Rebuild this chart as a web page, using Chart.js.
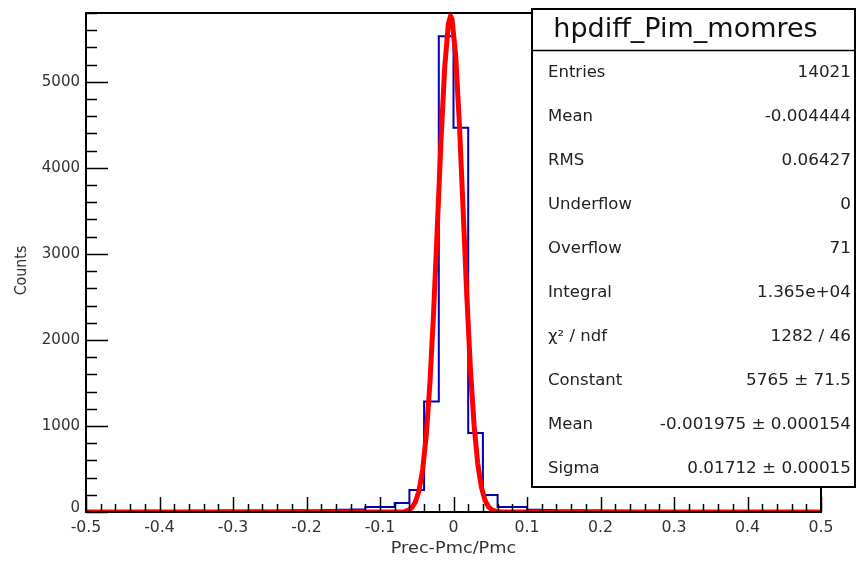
<!DOCTYPE html>
<html>
<head>
<meta charset="utf-8">
<script src="https://cdn.jsdelivr.net/npm/chart.js@4"></script>
<style>
html,body{margin:0;padding:0;background:#fff;}
#wrap{width:857px;height:562px;position:relative;}
</style>
</head>
<body>
<div id="wrap"><canvas id="c" width="857" height="562"></canvas></div>
<script>
// ---------- DATA ----------
const histTitle = "hpdiff_Pim_momres";
const xAxisTitle = "Prec-Pmc/Pmc";
const yAxisTitle = "Counts";
const xMin = -0.5, xMax = 0.5, binWidth = 0.02;
const yMin = 0, yMax = 5800;
// blue histogram: 50 bins of width 0.02 from -0.5 to 0.5
const binCounts = [
  8, 10, 12, 9, 14, 11, 13, 15, 12, 16,
  14, 18, 15, 17, 20, 18, 22, 25, 28, 58,
  58, 105, 256, 1283, 5530, 4465, 919, 198, 58, 58,
  25, 22, 18, 20, 16, 15, 14, 13, 15, 12,
  12, 11, 13, 10, 12, 9, 11, 10, 8, 9
];
// red fitted curve
const fitX = [-0.5, -0.072, -0.067, -0.062, -0.057, -0.052, -0.047, -0.042, -0.037, -0.032, -0.027, -0.022, -0.017, -0.012, -0.007, -0.004, -0.002, 0.003, 0.008, 0.013, 0.018, 0.023, 0.028, 0.033, 0.038, 0.043, 0.048, 0.053, 0.058, 0.063, 0.068, 0.5];
const fitY = [0, 1, 4, 18, 47, 113, 245, 490, 897, 1510, 2333, 3311, 4316, 5165, 5676, 5765, 5727, 5306, 4514, 3526, 2530, 1666, 1008, 560, 286, 134, 57, 22, 8, 2, 1, 0];
// tick labels
const xTickValues = [-0.5, -0.4, -0.3, -0.2, -0.1, 0, 0.1, 0.2, 0.3, 0.4, 0.5];
const xTickLabels = ["-0.5", "-0.4", "-0.3", "-0.2", "-0.1", "0", "0.1", "0.2", "0.3", "0.4", "0.5"];
const yTickValues = [0, 1000, 2000, 3000, 4000, 5000];
const yTickLabels = ["0", "1000", "2000", "3000", "4000", "5000"];
const xMinorStep = 0.02, yMinorStep = 200;
// stats box
const statLabels = ["Entries", "Mean", "RMS", "Underflow", "Overflow", "Integral", "χ² / ndf", "Constant", "Mean", "Sigma"];
const statValues = ["14021", "-0.004444", "0.06427", "0", "71", "1.365e+04", "1282 / 46", "5765 ± 71.5", "-0.001975 ± 0.000154", "0.01712 ± 0.00015"];

// ---------- BUILD ----------
const histPoints = binCounts.map((c, i) => ({x: xMin + i * binWidth, y: c}));
histPoints.push({x: xMax, y: binCounts[binCounts.length - 1]});
const fitPoints = fitX.map((x, i) => ({x: x, y: fitY[i]}));

const FONT = "'DejaVu Sans', 'Liberation Sans', sans-serif";
function txt(ctx, s, x, y, size, align, sx, color) {
  ctx.save();
  ctx.font = size + "px " + FONT;
  ctx.textBaseline = "middle";
  ctx.fillStyle = color || "#222";
  const w = ctx.measureText(s).width * sx;
  const x0 = align === "right" ? x - w : (align === "center" ? x - w / 2 : x);
  ctx.translate(x0, y);
  ctx.scale(sx, 1);
  ctx.textAlign = "left";
  ctx.fillText(s, 0, 0);
  ctx.restore();
}

const rootPlugin = {
  id: "rootStyle",
  afterDatasetsDraw(chart) {
    const ctx = chart.ctx;
    const xs = chart.scales.x, ys = chart.scales.y;
    const a = chart.chartArea;
    ctx.save();
    // ticks
    ctx.strokeStyle = "#000";
    ctx.lineWidth = 1.5;
    const xMajLen = 15, xMinLen = 8, yMajLen = 22, yMinLen = 11;
    for (let v = xMin; v <= xMax + 1e-9; v += xMinorStep) {
      const p = Math.round(xs.getPixelForValue(v)) + 0.5;
      const isMaj = Math.abs(Math.round(v * 10) - v * 10) < 1e-6;
      ctx.beginPath();
      ctx.moveTo(p, a.bottom);
      ctx.lineTo(p, a.bottom - (isMaj ? xMajLen : xMinLen));
      ctx.stroke();
    }
    for (let v = yMin; v <= yMax + 1e-9; v += yMinorStep) {
      const p = Math.round(ys.getPixelForValue(v)) + 0.5;
      const isMaj = (Math.round(v) % 1000) === 0;
      ctx.beginPath();
      ctx.moveTo(a.left, p);
      ctx.lineTo(a.left + (isMaj ? yMajLen : yMinLen), p);
      ctx.stroke();
    }
    // frame
    ctx.lineWidth = 2;
    ctx.strokeRect(a.left, a.top, a.right - a.left, a.bottom - a.top);
    // tick labels
    xTickValues.forEach((v, i) => {
      txt(ctx, xTickLabels[i], xs.getPixelForValue(v), a.bottom + 16, 15, "center", 1.05, "#333");
    });
    yTickValues.forEach((v, i) => {
      txt(ctx, yTickLabels[i], a.left - 6, ys.getPixelForValue(v) - (v === 0 ? 4 : 0), 15, "right", 1.0, "#333");
    });
    // axis titles
    txt(ctx, xAxisTitle, (a.left + a.right) / 2, a.bottom + 37, 15, "center", 1.18, "#333");
    ctx.save();
    ctx.translate(22, (a.top + a.bottom) / 2 + 8);
    ctx.rotate(-Math.PI / 2);
    txt(ctx, yAxisTitle, 0, 0, 15, "center", 0.95, "#333");
    ctx.restore();

    // stats box
    const bx = 532, by = 9, bw = 323, bh = 478;
    ctx.fillStyle = "#fff";
    ctx.fillRect(bx, by, bw, bh);
    ctx.lineWidth = 2;
    ctx.strokeStyle = "#000";
    ctx.strokeRect(bx, by, bw, bh);
    ctx.lineWidth = 1.5;
    ctx.beginPath();
    ctx.moveTo(bx, 50.5);
    ctx.lineTo(bx + bw, 50.5);
    ctx.stroke();
    txt(ctx, histTitle, bx + bw / 2 - 8, 30, 27, "center", 1.0, "#111");
    const rowTop = 73, rowH = 44;
    statLabels.forEach((lab, i) => {
      const y = rowTop + i * rowH;
      txt(ctx, lab, 548, y, 15, "left", 1.1, "#222");
      txt(ctx, statValues[i], 851, y, 15, "right", 1.12, "#222");
    });
    ctx.restore();
  }
};

new Chart(document.getElementById("c"), {
  type: "line",
  data: {
    datasets: [
      {
        label: "hist",
        data: histPoints,
        stepped: "before",
        borderColor: "#0000b4",
        borderWidth: 2,
        pointRadius: 0,
        fill: false,
        order: 2
      },
      {
        label: "fit",
        data: fitPoints,
        borderColor: "#ff0000",
        borderWidth: 5,
        pointRadius: 0,
        tension: 0,
        fill: false,
        order: 1
      }
    ]
  },
  options: {
    responsive: false,
    animation: false,
    devicePixelRatio: 1,
    layout: {padding: {left: 86, right: 36, top: 13, bottom: 50}},
    plugins: {legend: {display: false}, tooltip: {enabled: false}},
    scales: {
      x: {type: "linear", min: xMin, max: xMax, display: false},
      y: {type: "linear", min: yMin, max: yMax, display: false}
    }
  },
  plugins: [rootPlugin]
});
</script>
</body>
</html>
